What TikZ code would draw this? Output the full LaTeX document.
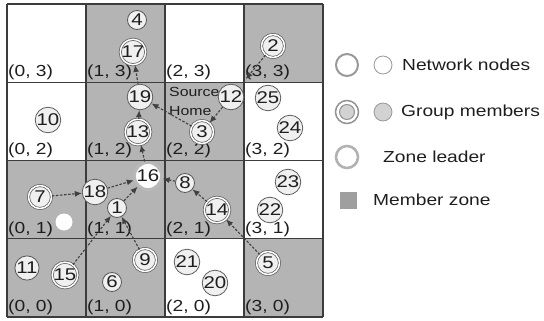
\documentclass[tikz,border=0pt]{standalone}
\usepackage{fontspec}
\setmainfont{Liberation Sans}[FakeStretch=1.2]
\usetikzlibrary{arrows.meta}
\definecolor{cellgray}{HTML}{B4B4B4}
\definecolor{linegray}{HTML}{3C3C3C}
\definecolor{txt}{HTML}{1E1E1E}
\tikzset{
  pnode/.style={circle, draw=black!65, line width=0.8pt, fill=white!88!gray, inner sep=0pt, minimum size=19pt, text=txt, font=\fontsize{17}{17}\selectfont},
  mnode/.style={circle, draw=black!65, line width=0.7pt, double=white, double distance=1.5pt, fill=white!88!gray, inner sep=0pt, minimum size=23pt, text=txt, font=\fontsize{17}{17}\selectfont},
  lnode/.style={circle, draw=gray!55, line width=2.8pt, fill=white, inner sep=0pt, minimum size=27pt, text=txt, font=\fontsize{17}{17}\selectfont},
  wnode/.style={circle, fill=white, inner sep=0pt, minimum size=17pt},
  arr/.style={draw=black!75, line width=1.1pt, dash pattern=on 2.5pt off 1.6pt, -{Latex[length=7pt,width=6pt]}},
  celllab/.style={anchor=south west, inner sep=0pt, text=txt, font=\fontsize{16}{16}\selectfont},
  legtext/.style={anchor=west, inner sep=0pt, text=txt, font=\fontsize{16}{16}\selectfont},
}
\begin{document}
\begin{tikzpicture}[x=1pt,y=-1pt]
\useasboundingbox (0,0) rectangle (544,321);
% shaded member zones
\foreach \c/\r in {1/3,3/3,1/2,2/2,0/1,1/1,2/1,0/0,1/0,3/0}{
  \pgfmathsetmacro{\xa}{7+79*\c}
  \pgfmathsetmacro{\ya}{4+78.25*(3-\r)}
  \fill[cellgray] (\xa,\ya) rectangle ++(79,78.25);
}
% grid
\foreach \i in {0,...,4}{
  \draw[linegray, line width=1.3pt] ({7+79*\i},4) -- ({7+79*\i},317);
  \draw[linegray, line width=1.3pt] (7,{4+78.25*\i}) -- (323,{4+78.25*\i});
}
% cell labels
\foreach \c in {0,...,3}{
  \foreach \r in {0,...,3}{
    \node[celllab] (lab\c\r) at ({8+79*\c},{4+78.25*(4-\r)-2}) {(\c, \r)};
  }
}
\node[anchor=west, inner sep=0pt, text=txt, font=\fontsize{13.2}{13.2}\selectfont] (src) at (169,92) {Source};
\node[anchor=west, inner sep=0pt, text=txt, font=\fontsize{13.2}{13.2}\selectfont] (home) at (169,111) {Home};
% nodes
\node[pnode] (n4) at (137,20) {4};
\node[mnode] (n17) at (133,52) {17};
\node[pnode] (n19) at (140,97) {19};
\node[mnode] (n13) at (138,132) {13};
\node[pnode, minimum size=17pt] (n10) at (48,120) {10};
\node[mnode] (n2) at (273,46) {2};
\node[pnode] (n12) at (231,97) {12};
\node[pnode] (n25) at (268,98) {25};
\node[pnode] (n24) at (290,128) {24};
\node[mnode] (n3) at (202,132) {3};
\node[mnode] (n7) at (40,197) {7};
\node[pnode] (n18) at (95,192) {18};
\node[lnode] (n16) at (148,176) {16};
\node[pnode] (n1) at (117,208) {1};
\node[wnode] (nw) at (64,222) {};
\node[mnode] (n9) at (145,260) {9};
\node[pnode, minimum size=17pt] (n11) at (27,268) {11};
\node[mnode] (n15) at (65,275) {15};
\node[pnode] (n6) at (112,282) {6};
\node[pnode] (n8) at (185,183) {8};
\node[mnode] (n14) at (217,210) {14};
\node[pnode] (n23) at (288,182) {23};
\node[pnode] (n22) at (270,210) {22};
\node[mnode] (n5) at (268,263) {5};
\node[pnode] (n21) at (187,262) {21};
\node[pnode] (n20) at (215,283) {20};
% connectors
\draw[arr] (n19) -- (n17);
\draw[arr] (n13) -- (n19);
\draw[arr] (n16) -- (n13);
\draw[arr] (n3) -- (n19);
\draw[arr] (n12) -- (n3);
\draw[arr, shorten >=10pt] (n2) -- (n12);
\draw[arr] (n7) -- (n18);
\draw[arr] (n18) -- (n16);
\draw[arr] (n1) -- (n16);
\draw[arr] (n15) -- (n1);
\draw[arr] (n9) -- (n1);
\draw[arr] (n8) -- (n16);
\draw[arr] (n14) -- (n8);
\draw[arr] (n5) -- (n14);
% legend
\node[circle, draw=gray!80, line width=2pt, fill=white, minimum size=22pt, inner sep=0pt] (lg1a) at (347,65) {};
\node[circle, draw=gray!80, line width=0.8pt, fill=white, minimum size=18pt, inner sep=0pt] (lg1b) at (383,65) {};
\node[legtext] (lt1) at (402,65) {Network nodes};
\node[circle, draw=gray!85, line width=1.5pt, fill=white, minimum size=23pt, inner sep=0pt] (lg2a) at (347,112) {};
\node[circle, draw=gray!85, line width=1pt, fill=gray!35, minimum size=15pt, inner sep=0pt] (lg2c) at (347,112) {};
\node[circle, draw=gray!80, line width=0.8pt, fill=gray!35, minimum size=18pt, inner sep=0pt] (lg2b) at (383,112) {};
\node[legtext] (lt2) at (401,112) {Group members};
\node[circle, draw=gray!60, line width=2.6pt, fill=white, minimum size=22pt, inner sep=0pt] (lg3) at (347,157) {};
\node[legtext] (lt3) at (383,157) {Zone leader};
\node[rectangle, fill=gray!75, minimum size=17pt, inner sep=0pt] (lg4) at (348,200) {};
\node[legtext] (lt4) at (373,200) {Member zone};
\end{tikzpicture}
\end{document}
